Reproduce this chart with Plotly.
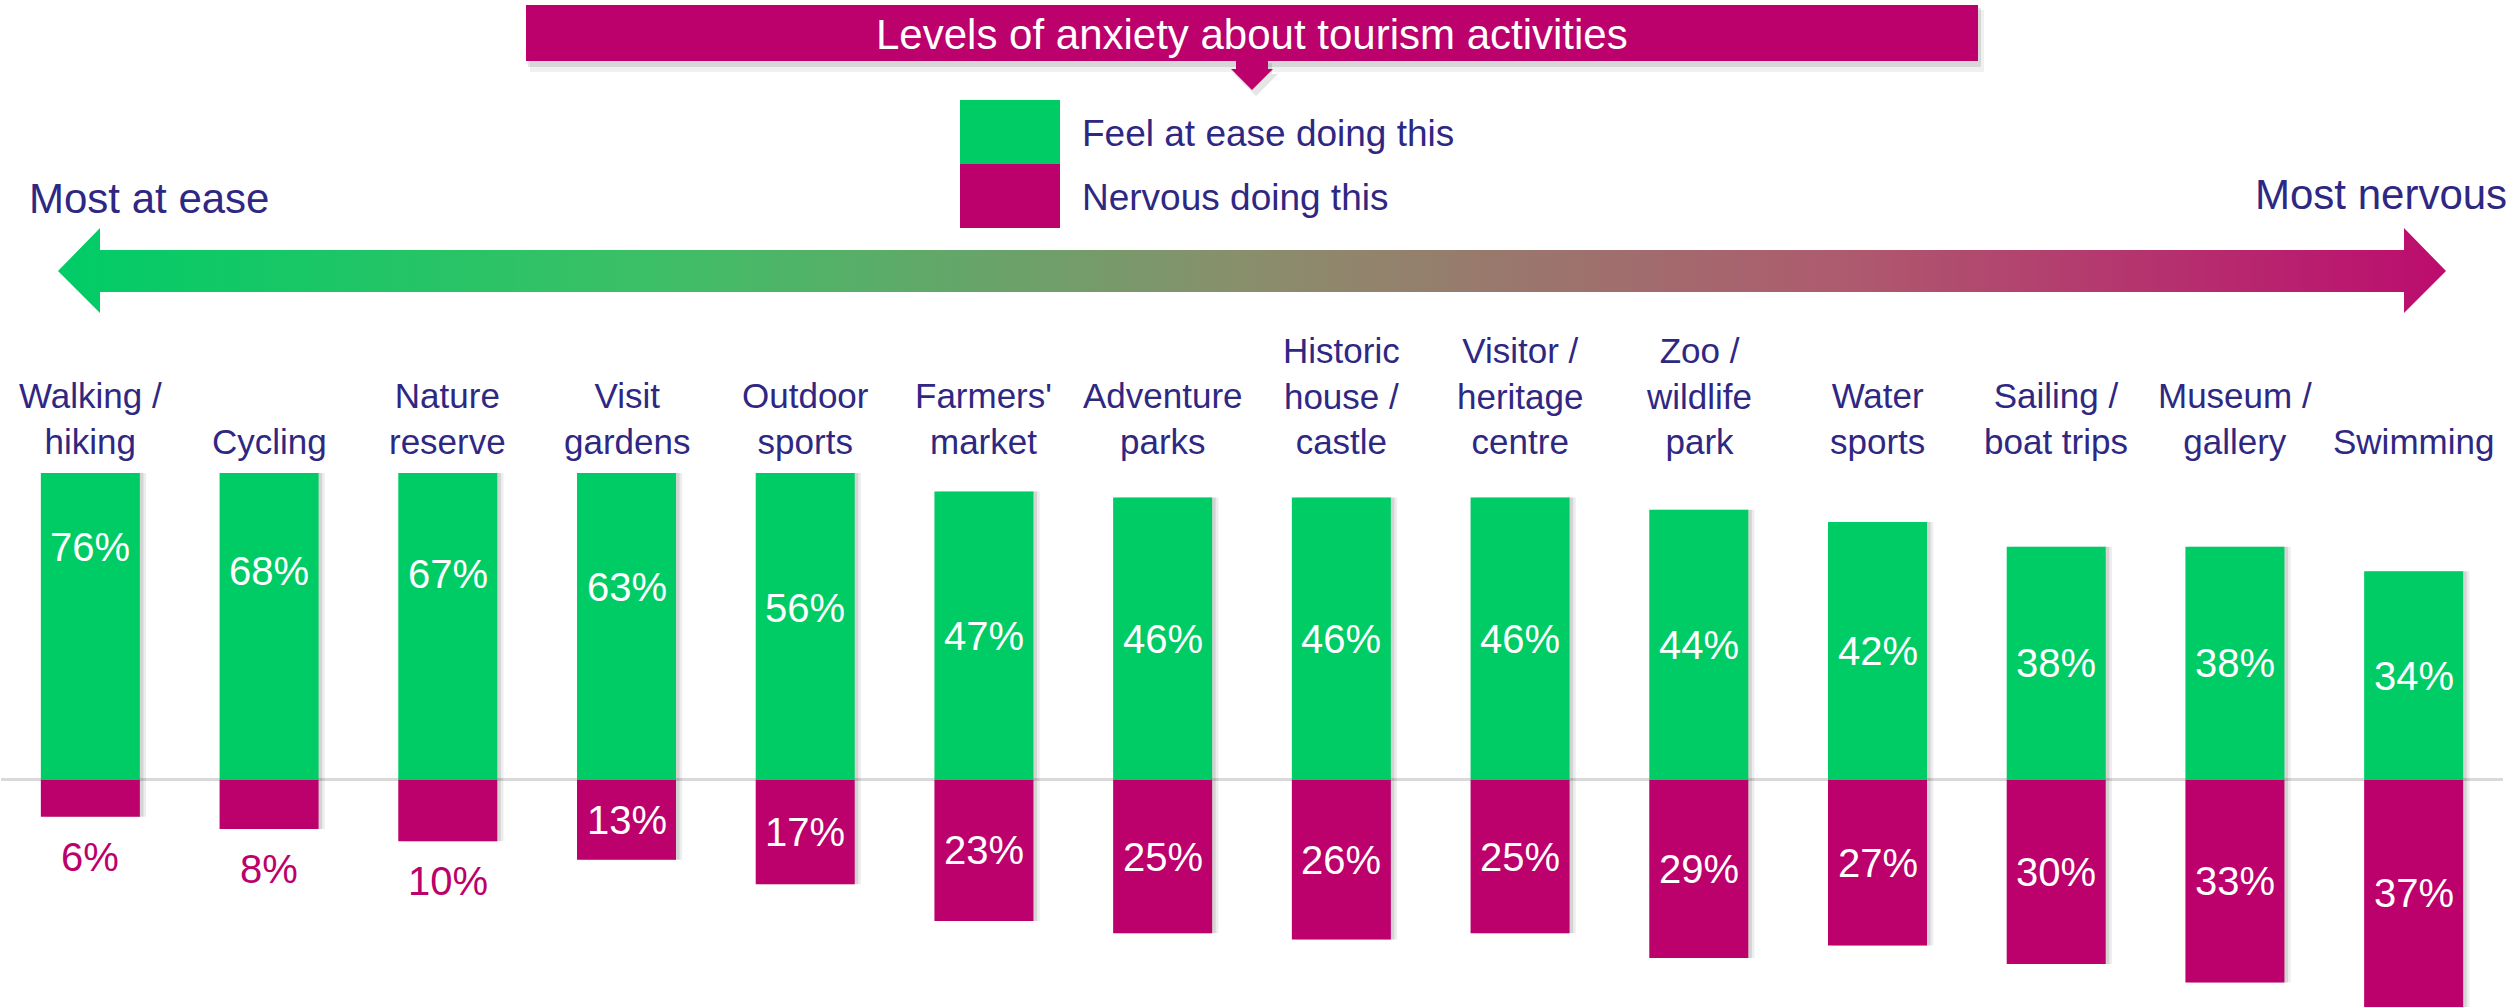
import plotly.graph_objects as go

# survey data: share who feel at ease / nervous doing each activity
activities = ['Walking / hiking', 'Cycling', 'Nature reserve', 'Visit gardens',
              'Outdoor sports', "Farmers' market", 'Adventure parks',
              'Historic house / castle', 'Visitor / heritage centre',
              'Zoo / wildlife park', 'Water sports', 'Sailing / boat trips',
              'Museum / gallery', 'Swimming']
tick_labels = ['Walking /<br>hiking', 'Cycling', 'Nature<br>reserve', 'Visit<br>gardens',
               'Outdoor<br>sports', "Farmers'<br>market", 'Adventure<br>parks',
               'Historic<br>house /<br>castle', 'Visitor /<br>heritage<br>centre',
               'Zoo /<br>wildlife<br>park', 'Water<br>sports', 'Sailing /<br>boat trips',
               'Museum /<br>gallery', 'Swimming']
at_ease = [76, 68, 67, 63, 56, 47, 46, 46, 46, 44, 42, 38, 38, 34]
nervous = [6, 8, 10, 13, 17, 23, 25, 26, 25, 29, 27, 30, 33, 37]

W, H = 2514, 1007
GREEN = '#00CC66'
MAGENTA = '#BC006C'
NAVY = '#2F2883'
FONT = "Arial, 'Liberation Sans', sans-serif"

fig = go.Figure()

# soft shadow to the right of each bar
for shift, alpha in [(0.035, 0.07), (0.02, 0.10)]:
    for vals in (at_ease, [-v for v in nervous]):
        fig.add_trace(go.Bar(
            x=activities, y=vals, width=0.554, offset=-0.277 + shift,
            marker=dict(color=f'rgba(0,0,0,{alpha})', line=dict(width=0)),
            hoverinfo='skip', showlegend=False,
        ))

fig.add_trace(go.Bar(x=activities, y=at_ease, width=0.554, offset=-0.277,
                     marker=dict(color=GREEN, line=dict(width=0)),
                     name='Feel at ease doing this'))
fig.add_trace(go.Bar(x=activities, y=[-v for v in nervous], width=0.554, offset=-0.277,
                     marker=dict(color=MAGENTA, line=dict(width=0)),
                     name='Nervous doing this'))

# gradient arrow drawn on a full-page overlay axis (pixel units)
arrow_x = [58, 100, 100, 2404, 2404, 2446, 2404, 2404, 100, 100, 58]
arrow_y = [271, 228, 250, 250, 228, 271, 313, 292, 292, 313, 271]
fig.add_trace(go.Scatter(
    x=arrow_x, y=arrow_y, xaxis='x2', yaxis='y2', mode='lines',
    line=dict(width=0), fill='toself',
    fillgradient=dict(type='horizontal', colorscale=[
        [0, '#00CC66'], [0.25, '#3DBF66'], [0.5, '#8A8E6C'],
        [0.75, '#AE5A6E'], [1, '#BC0C6E']]),
    hoverinfo='skip', showlegend=False,
))

annotations = []
for act, lab in zip(activities, tick_labels):
    annotations.append(dict(x=act, y=50, xref='x', yref='y', text=lab, showarrow=False,
                            yanchor='bottom', yshift=10, align='center',
                            font=dict(size=35, color=NAVY, family=FONT)))
for act, v in zip(activities, at_ease):
    annotations.append(dict(x=act, y=v / 2, xref='x', yref='y', text=f'{v}%',
                            showarrow=False, font=dict(size=40, color='white', family=FONT)))
for act, v in zip(activities, nervous):
    if v >= 12:
        annotations.append(dict(x=act, y=-v / 2, xref='x', yref='y', text=f'{v}%',
                                showarrow=False, font=dict(size=40, color='white', family=FONT)))
    else:
        annotations.append(dict(x=act, y=-v, xref='x', yref='y', text=f'{v}%',
                                showarrow=False, yanchor='top', yshift=-16,
                                font=dict(size=40, color=MAGENTA, family=FONT)))

# header, legend and arrow labels
annotations += [
    dict(x=1252, y=34, xref='x2', yref='y2', text='Levels of anxiety about tourism activities',
         showarrow=False, font=dict(size=42, color='white', family=FONT)),
    dict(x=1080, y=133, xref='x2', yref='y2', text='Feel at ease doing this', xanchor='left',
         showarrow=False, font=dict(size=37, color=NAVY, family=FONT)),
    dict(x=1080, y=197, xref='x2', yref='y2', text='Nervous doing this', xanchor='left',
         showarrow=False, font=dict(size=37, color=NAVY, family=FONT)),
    dict(x=27, y=198, xref='x2', yref='y2', text='Most at ease', xanchor='left',
         showarrow=False, font=dict(size=42, color=NAVY, family=FONT)),
    dict(x=2509, y=194, xref='x2', yref='y2', text='Most nervous', xanchor='right',
         showarrow=False, font=dict(size=42, color=NAVY, family=FONT)),
]

shapes = [
    # header shadow
    dict(type='rect', xref='x2', yref='y2', x0=530, x1=1984, y0=10, y1=72,
         fillcolor='rgba(0,0,0,0.06)', line=dict(width=0), layer='below'),
    dict(type='rect', xref='x2', yref='y2', x0=528, x1=1981, y0=8, y1=67,
         fillcolor='rgba(0,0,0,0.10)', line=dict(width=0), layer='below'),
    dict(type='rect', xref='x2', yref='y2', x0=526, x1=1978, y0=5, y1=61,
         fillcolor=MAGENTA, line=dict(width=0)),
    # small pointer under the header
    dict(type='path', xref='x2', yref='y2',
         path='M 1239 63 L 1272 63 L 1272 74 L 1278 74 L 1256 96 L 1234 74 L 1239 74 Z',
         fillcolor='rgba(0,0,0,0.10)', line=dict(width=0)),
    dict(type='path', xref='x2', yref='y2',
         path='M 1236 60 L 1268 60 L 1268 69 L 1273 69 L 1252 90 L 1231 69 L 1236 69 Z',
         fillcolor=MAGENTA, line=dict(width=0)),
    # legend swatches
    dict(type='rect', xref='x2', yref='y2', x0=960, x1=1060, y0=100, y1=164,
         fillcolor=GREEN, line=dict(width=0)),
    dict(type='rect', xref='x2', yref='y2', x0=960, x1=1060, y0=164, y1=228,
         fillcolor=MAGENTA, line=dict(width=0)),
]

fig.update_layout(
    width=W, height=H,
    margin=dict(l=0, r=0, t=0, b=0),
    barmode='overlay', bargap=0.446,
    paper_bgcolor='white', plot_bgcolor='rgba(0,0,0,0)',
    showlegend=False,
    font=dict(family=FONT, color=NAVY),
    xaxis=dict(domain=[1 / W, 2503 / W], showticklabels=False, showgrid=False,
               showline=False, ticks='', fixedrange=True),
    yaxis=dict(domain=[0, 534 / H], range=[-37, 50], showticklabels=False, showgrid=False,
               zeroline=True, zerolinecolor='#D9D9D9', zerolinewidth=3,
               layer='above traces', fixedrange=True),
    xaxis2=dict(domain=[0, 1], range=[0, W], visible=False, anchor='y2', fixedrange=True),
    yaxis2=dict(domain=[0, 1], range=[H, 0], visible=False, anchor='x2', fixedrange=True),
    annotations=annotations,
    shapes=shapes,
)

# the page body has a default 8px margin; drop it so the figure fills the window
fig.write_html("out.html", config={'displayModeBar': False},
               post_script="document.body.style.margin='0';document.body.style.overflow='hidden';")
